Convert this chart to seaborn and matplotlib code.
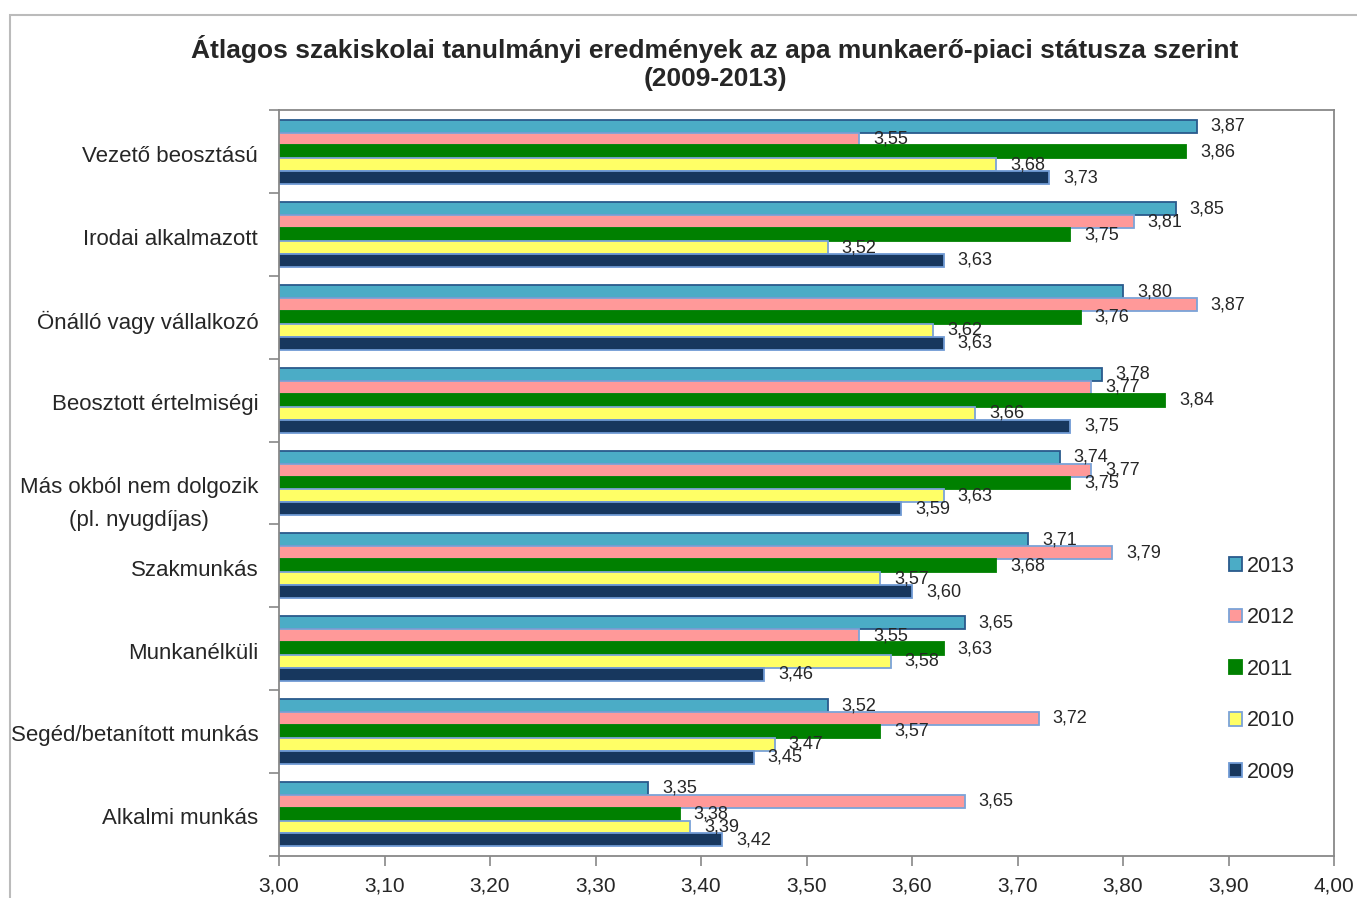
import pandas as pd
import matplotlib.pyplot as plt
import matplotlib.patches as mpatches
import matplotlib.transforms as mtransforms
from matplotlib.ticker import FixedLocator, FuncFormatter
import seaborn as sns

categories = ['Vezető beosztású', 'Irodai alkalmazott', 'Önálló vagy vállalkozó',
              'Beosztott értelmiségi', 'Más okból nem dolgozik\n(pl. nyugdíjas)',
              'Szakmunkás', 'Munkanélküli', 'Segéd/betanított munkás', 'Alkalmi munkás']
years = ['2013', '2012', '2011', '2010', '2009']
v2013 = [3.87, 3.85, 3.80, 3.78, 3.74, 3.71, 3.65, 3.52, 3.35]
v2012 = [3.55, 3.81, 3.87, 3.77, 3.77, 3.79, 3.55, 3.72, 3.65]
v2011 = [3.86, 3.75, 3.76, 3.84, 3.75, 3.68, 3.63, 3.57, 3.38]
v2010 = [3.68, 3.52, 3.62, 3.66, 3.63, 3.57, 3.58, 3.47, 3.39]
v2009 = [3.73, 3.63, 3.63, 3.75, 3.59, 3.60, 3.46, 3.45, 3.42]
title = 'Átlagos szakiskolai tanulmányi eredmények az apa munkaerő-piaci státusza szerint\n(2009-2013)'

rows = []
for yr, vals in zip(years, [v2013, v2012, v2011, v2010, v2009]):
    for c, v in zip(categories, vals):
        rows.append({'cat': c, 'year': yr, 'val': v})
df = pd.DataFrame(rows)

fills = ['#4BACC6', '#FF9999', '#008000', '#FFFF66', '#17375E']
edges = ['#2A5A8C', '#7BA3D8', '#008000', '#7BA3D8', '#6F9AD4']

sns.set_style('white')
plt.rcParams['font.family'] = ['Liberation Sans', 'DejaVu Sans']

fig = plt.figure(figsize=(13.57, 8.98), dpi=100)
ax = fig.add_axes([279 / 1357, 1 - 855.5 / 898, (1334 - 279) / 1357, (855.5 - 110.5) / 898])

sns.barplot(data=df, y='cat', x='val', hue='year', hue_order=years, order=categories,
            palette=fills, orient='h', width=0.78, ax=ax, legend=False)

for cont, fc, ec in zip(ax.containers, fills, edges):
    for bar in cont:
        bar.set_facecolor(fc)
        bar.set_edgecolor(ec)
        bar.set_linewidth(1.3)
    ax.bar_label(cont, labels=[f'{b.get_width():.2f}'.replace('.', ',') for b in cont],
                 padding=10, fontsize=13)

ax.set_xlim(3.0, 4.0)
ax.set_ylim(len(categories) - 0.5, -0.5)
ax.set_xticks([3.0 + 0.1 * i for i in range(11)])
ax.xaxis.set_major_formatter(FuncFormatter(lambda x, p: f'{x:.2f}'.replace('.', ',')))
ax.yaxis.set_minor_locator(FixedLocator([i - 0.5 for i in range(len(categories) + 1)]))
ax.tick_params(axis='y', which='major', length=0, pad=15, labelsize=16)
ax.tick_params(axis='y', which='minor', length=7, width=1.2, color='#888888', left=True)
ax.tick_params(axis='x', which='major', length=7, width=1.2, color='#888888', bottom=True,
               labelsize=15, pad=8)
for lab in ax.get_yticklabels():
    if '\n' in lab.get_text():
        lab.set_multialignment('center')
        lab.set_linespacing(1.75)
        lab.set_verticalalignment('top')
        lab.set_transform(lab.get_transform() + mtransforms.ScaledTranslation(0, 4 / 72, fig.dpi_scale_trans))
    else:
        lab.set_transform(lab.get_transform() + mtransforms.ScaledTranslation(0, -1.5 / 72, fig.dpi_scale_trans))
ax.set_xlabel('')
ax.set_ylabel('')
for s in ax.spines.values():
    s.set_color('#888888')
    s.set_linewidth(1.3)

handles = [mpatches.Patch(facecolor=fc, edgecolor=ec, linewidth=1.3) for fc, ec in zip(fills, edges)]
ax.legend(handles, years, loc='center left', bbox_to_anchor=(0.882, 0.25), frameon=False,
          fontsize=15.5, handlelength=0.6, handleheight=0.6, handletextpad=0.25, labelspacing=1.42)

fig.text(0.527, 1 - 63 / 898, title, ha='center', va='center', fontsize=19,
         fontweight='bold', linespacing=1.2)

fig.patches.append(mpatches.Rectangle((10 / 1357, -0.1), 1.2, 1.1 - 15 / 898,
                                      transform=fig.transFigure, fill=False,
                                      edgecolor='#BBBBBB', linewidth=1.5))

plt.savefig('out.png', dpi=100)
